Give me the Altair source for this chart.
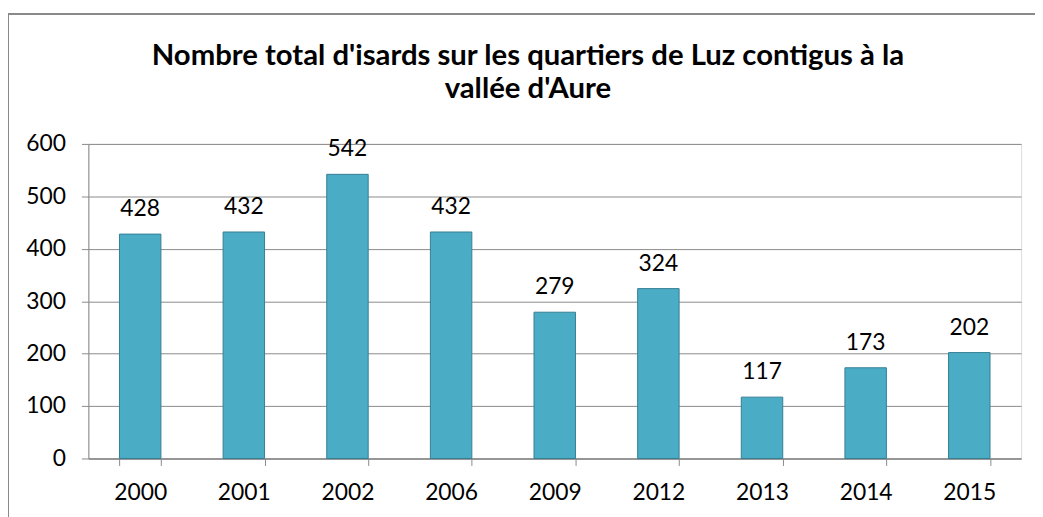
import altair as alt
import pandas as pd

years = ["2000", "2001", "2002", "2006", "2009", "2012", "2013", "2014", "2015"]
counts = [428, 432, 542, 432, 279, 324, 117, 173, 202]
title_lines = ["Nombre total d'isards sur les quartiers de Luz contigus à la", "vallée d'Aure"]

df = pd.DataFrame({"annee": years, "isards": counts})
one = pd.DataFrame({"k": [0]})

FONT = "Lato"
GRAY = "#8a8a8a"

x_enc = alt.X("annee:N", sort=years, title=None,
              scale=alt.Scale(paddingInner=0.6, paddingOuter=0.3),
              axis=alt.Axis(labelAngle=0, labelFontSize=23, labelFont=FONT, labelColor="#000000",
                            labelPadding=16, tickBand="extent", tickSize=7, tickColor=GRAY,
                            domainColor=GRAY, domainWidth=1.5, grid=False))
y_enc = alt.Y("isards:Q", title=None,
              scale=alt.Scale(domain=[0, 600], nice=False),
              axis=alt.Axis(values=[0, 100, 200, 300, 400, 500, 600], labelFontSize=23, labelFont=FONT,
                            labelColor="#000000", labelPadding=16, tickSize=7, tickColor=GRAY,
                            domainColor=GRAY, gridColor=GRAY, gridWidth=1, grid=True))

bars = alt.Chart(df).mark_bar(color="#4BACC6", stroke="#357F93", strokeWidth=1).encode(x=x_enc, y=y_enc)

labels = alt.Chart(df).mark_text(baseline="alphabetic", dy=-18, fontSize=23, font=FONT, color="#000000").encode(
    x=alt.X("annee:N", sort=years), y="isards:Q", text="isards:Q")

title1 = alt.Chart(one).mark_text(fontSize=29.5, font=FONT, fontWeight="bold", color="#000000",
                                  align="center", baseline="alphabetic").encode(
    x=alt.value(443), y=alt.value(-80), text=alt.value(title_lines[0]))
title2 = alt.Chart(one).mark_text(fontSize=29.5, font=FONT, fontWeight="bold", color="#000000",
                                  align="center", baseline="alphabetic").encode(
    x=alt.value(443), y=alt.value(-46), text=alt.value(title_lines[1]))

border_top = alt.Chart(one).mark_rule(color=GRAY, strokeWidth=2).encode(
    x=alt.value(-81), x2=alt.value(960), y=alt.value(-131))
border_left = alt.Chart(one).mark_rule(color=GRAY, strokeWidth=2).encode(
    x=alt.value(-81), y=alt.value(-131), y2=alt.value(380))

chart = alt.layer(bars, labels, title1, title2, border_top, border_left).properties(
    width=940, height=317,
    autosize=alt.AutoSizeParams(type="none"),
    padding={"left": 81, "top": 135, "right": 14, "bottom": 57},
).configure_view(fill="#E8EFF2", stroke=None).configure(background="white")

chart.save("out.html", embed_options={"renderer": "svg", "actions": False})
